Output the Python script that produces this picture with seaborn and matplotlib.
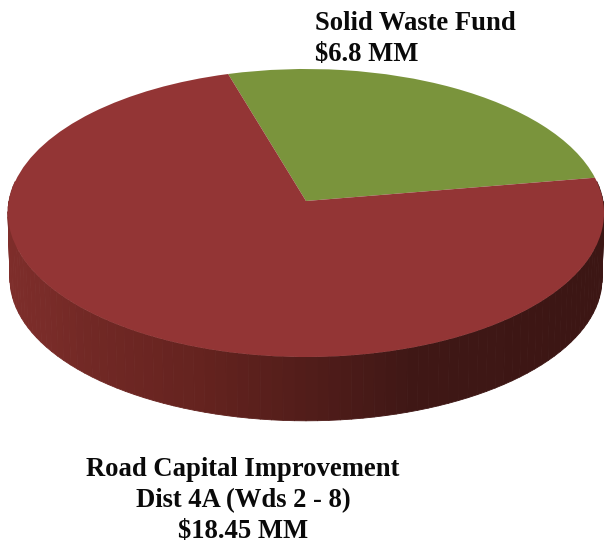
import numpy as np
import matplotlib
matplotlib.use("Agg")
import matplotlib.pyplot as plt
from matplotlib.collections import PolyCollection
from matplotlib.transforms import Affine2D, Transform
import seaborn as sns

# Funding by source, in millions of dollars
funds = ["Solid Waste Fund", "Road Capital Improvement\nDist 4A (Wds 2 - 8)"]
amounts = [6.8, 18.45]
face_colors = ["#7A943C", "#933535"]
wall_stops = ["#822F2C", "#7A2C29", "#65231F", "#3F1715", "#3C1614", "#3C1614"]


class TiltedDisc(Transform):
    """Projects the unit disc onto a plane tilted away from the viewer."""
    input_dims = output_dims = 2
    is_separable = False
    has_inverse = False

    def __init__(self, k=0.0833):
        super().__init__()
        self.k = k

    def transform_non_affine(self, values):
        values = np.asarray(values, dtype=float)
        w = 1 + self.k * values[:, 1]
        return values / w[:, None]


sns.set_theme(style="white")
plt.rcParams["font.family"] = ["Liberation Serif", "DejaVu Serif"]

fig = plt.figure(figsize=(6.04, 5.44), dpi=100, facecolor="white")
ax = fig.add_axes([0, 0, 1, 1])

# Layout of the disc on the canvas, in pixel-like axis units
tilt = TiltedDisc()
top_face = Affine2D().scale(297, -143).translate(306, 201)
floor = Affine2D().scale(295, -141).translate(306, 267)

wedges, _ = ax.pie(amounts, colors=face_colors, startangle=9.5, radius=1,
                   wedgeprops={"linewidth": 0})
ax.set_aspect("auto")
ax.set_xlim(0, 604)
ax.set_ylim(544, 0)
ax.axis("off")
for wedge in wedges:
    wedge.set_transform(tilt + top_face + ax.transData)
    wedge.set_zorder(3)

# Side wall: vertical bands along the front half of the rim, shaded left to right
n_bands = 96
edges = np.radians(np.linspace(172, 368, n_bands + 1))
unit = np.column_stack([np.cos(edges), np.sin(edges)])
upper = top_face.transform(tilt.transform(unit))
lower = floor.transform(tilt.transform(unit))
bands = [np.array([upper[i], upper[i + 1], lower[i + 1], lower[i]])
         for i in range(n_bands)]
wall_palette = sns.blend_palette(wall_stops, n_colors=n_bands)
ax.add_collection(PolyCollection(bands, facecolors=wall_palette, edgecolors="face",
                                 linewidths=0.6, zorder=2))

text_style = dict(fontsize=19.2, fontweight="bold", color="#0A0A0A", linespacing=1.29,
                  zorder=4)
ax.text(315, 11, f"{funds[0]}\n${amounts[0]} MM", ha="left", va="top", **text_style)
ax.text(243, 543.5, f"{funds[1]}\n${amounts[1]} MM", ha="center", va="bottom",
        multialignment="center", **text_style)

fig.savefig("out.png", dpi=100, facecolor="white")
